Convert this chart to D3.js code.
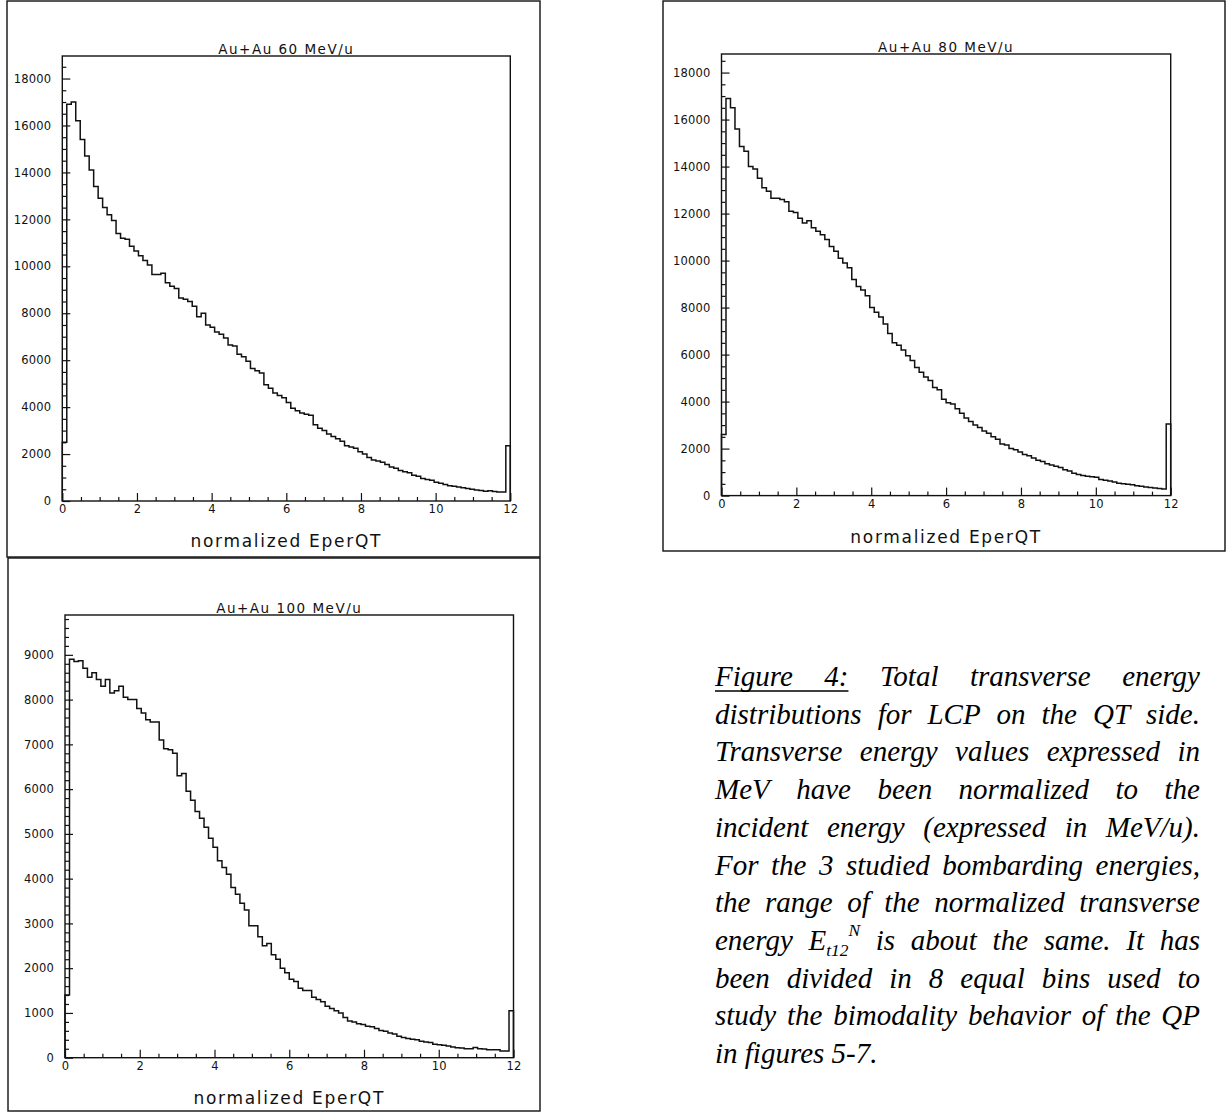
<!DOCTYPE html>
<html>
<head>
<meta charset="utf-8">
<script src="https://cdn.jsdelivr.net/npm/d3@7"></script>
<style>
  html, body { margin: 0; padding: 0; background: #fff; }
  svg { display: block; }
</style>
</head>
<body>
<svg id="fig" width="1227" height="1114"></svg>
<script>
// ---------------------------------------------------------------
// Histogram contents: 100 equal bins on normalized EperQT in [0, 12]
// ---------------------------------------------------------------
const binRange = [0, 12];
const nBins = 100;

const titles = ["Au+Au 60 MeV/u", "Au+Au 80 MeV/u", "Au+Au 100 MeV/u"];
const xAxisTitle = "normalized EperQT";

const counts60 = [
  2500, 16900, 17000, 16200, 15400, 14700, 14100, 13400, 12900, 12500,
  12200, 11950, 11400, 11200, 11150, 10850, 10650, 10450, 10250, 10050,
  9650, 9650, 9700, 9300, 9150, 9050, 8650, 8600, 8500, 8300,
  7850, 8000, 7500, 7400, 7200, 7100, 6950, 6650, 6600, 6250,
  6150, 5950, 5650, 5550, 5450, 4950, 4800, 4600, 4500, 4400,
  4200, 3950, 3850, 3750, 3700, 3650, 3250, 3100, 3000, 2850,
  2750, 2650, 2550, 2350, 2300, 2250, 2100, 2000, 1850, 1750,
  1700, 1650, 1550, 1450, 1400, 1300, 1250, 1200, 1100, 1050,
  960, 920, 880, 800, 760, 700, 650, 630, 600, 560,
  530, 500, 470, 450, 420, 440, 400, 380, 380, 2350
];

const counts80 = [
  2600, 16900, 16500, 15600, 14850, 14650, 14000, 13900, 13500, 13100,
  12950, 12650, 12650, 12600, 12500, 12100, 12050, 11800, 11600, 11700,
  11400, 11250, 11100, 10900, 10600, 10400, 10100, 9900, 9700, 9200,
  8900, 8750, 8500, 8000, 7800, 7600, 7300, 6900, 6500, 6400,
  6200, 5950, 5750, 5450, 5250, 5050, 4900, 4600, 4500, 4100,
  3950, 3900, 3700, 3500, 3300, 3150, 3000, 2900, 2750, 2650,
  2500, 2400, 2200, 2150, 2000, 1950, 1850, 1750, 1700, 1600,
  1500, 1450, 1350, 1300, 1250, 1200, 1100, 1050, 950, 900,
  850, 820, 800, 780, 680, 650, 620, 580, 530, 500,
  480, 460, 420, 400, 370, 340, 320, 300, 280, 3050
];

const counts100 = [
  1400, 8900, 8850, 8870, 8700, 8500, 8600, 8450, 8300, 8450,
  8150, 8200, 8300, 8050, 8000, 8000, 7800, 7700, 7550, 7500,
  7500, 7100, 6900, 6880, 6800, 6300, 6350, 5950, 5750, 5500,
  5350, 5150, 4900, 4700, 4400, 4250, 4100, 3800, 3650, 3450,
  3300, 2950, 2950, 2700, 2500, 2550, 2300, 2200, 2000, 1900,
  1750, 1700, 1550, 1500, 1500, 1350, 1300, 1250, 1150, 1100,
  1050, 1000, 900, 820, 800, 760, 740, 700, 690, 650,
  610, 590, 550, 530, 480, 450, 430, 410, 400, 370,
  350, 340, 300, 290, 280, 260, 240, 225, 215, 200,
  200, 230, 200, 195, 180, 180, 175, 150, 150, 1050
];

const xTickLabels = [0, 2, 4, 6, 8, 10, 12];
const yTicks60 = [0, 2000, 4000, 6000, 8000, 10000, 12000, 14000, 16000, 18000];
const yTicks80 = [0, 2000, 4000, 6000, 8000, 10000, 12000, 14000, 16000, 18000];
const yTicks100 = [0, 1000, 2000, 3000, 4000, 5000, 6000, 7000, 8000, 9000];

// Caption, one entry per justified line; "Figure 4:" is underlined and
// the E_t12^N symbol carries a subscript and a superscript.
const captionLines = [
  [{ w: "Figure", u: true }, { w: "4:", u: true }, "Total", "transverse", "energy"],
  ["distributions", "for", "LCP", "on", "the", "QT", "side."],
  ["Transverse", "energy", "values", "expressed", "in"],
  ["MeV", "have", "been", "normalized", "to", "the"],
  ["incident", "energy", "(expressed", "in", "MeV/u)."],
  ["For", "the", "3", "studied", "bombarding", "energies,"],
  ["the", "range", "of", "the", "normalized", "transverse"],
  ["energy", { base: "E", sub: "t12", sup: "N" }, "is", "about", "the", "same.", "It", "has"],
  ["been", "divided", "in", "8", "equal", "bins", "used", "to"],
  ["study", "the", "bimodality", "behavior", "of", "the", "QP"],
  ["in", "figures", "5-7."]
];

// ---------------------------------------------------------------
// Layout of the three histogram panels
// ---------------------------------------------------------------
const panels = [
  { title: titles[0], counts: counts60, yTicks: yTicks60, yMinorStep: 500, yMax: 18960,
    box: { l: 7, t: 1, r: 540, b: 557 },
    plot: { l: 62.3, r: 510.3, t: 56, b: 501 }, xTitleY: 547 },
  { title: titles[1], counts: counts80, yTicks: yTicks80, yMinorStep: 500, yMax: 18790,
    box: { l: 663, t: 1, r: 1225, b: 551 },
    plot: { l: 721.5, r: 1170.7, t: 54, b: 495.6 }, xTitleY: 543 },
  { title: titles[2], counts: counts100, yTicks: yTicks100, yMinorStep: 200, yMax: 9890,
    box: { l: 8, t: 558, r: 540, b: 1111 },
    plot: { l: 65, r: 513.5, t: 615, b: 1057.7 }, xTitleY: 1104 }
];

const svg = d3.select("#fig");
const ink = "#111";
const axisFont = "'DejaVu Sans', 'Liberation Sans', sans-serif";

panels.forEach(p => {
  const g = svg.append("g");

  // outer frame of the panel
  g.append("rect")
    .attr("x", p.box.l).attr("y", p.box.t)
    .attr("width", p.box.r - p.box.l).attr("height", p.box.b - p.box.t)
    .attr("fill", "none").attr("stroke", ink).attr("stroke-width", 1.4);

  const x = d3.scaleLinear().domain(binRange).range([p.plot.l, p.plot.r]);
  const y = d3.scaleLinear().domain([0, p.yMax]).range([p.plot.b, p.plot.t]);

  // plot frame
  g.append("rect")
    .attr("x", x(binRange[0])).attr("y", y(p.yMax))
    .attr("width", x(binRange[1]) - x(binRange[0]))
    .attr("height", y(0) - y(p.yMax))
    .attr("fill", "none").attr("stroke", ink).attr("stroke-width", 1.4);

  // x axis: majors every 2, minors every 0.5, ticks pointing inward
  const xMinor = d3.range(0, 12.001, 0.5).filter(v => v % 2 !== 0);
  const xMinorAxis = d3.axisBottom(x).tickValues(xMinor).tickSizeInner(-4).tickSizeOuter(0).tickFormat("");
  const xMajorAxis = d3.axisBottom(x).tickValues(xTickLabels).tickSizeInner(-8).tickSizeOuter(0)
    .tickPadding(4).tickFormat(d3.format("d"));

  [xMinorAxis, xMajorAxis].forEach(ax => {
    const a = g.append("g").attr("transform", `translate(0,${y(0)})`).call(ax);
    a.select(".domain").remove();
    a.selectAll("line").attr("stroke", ink).attr("stroke-width", 1.2);
    a.selectAll("text").attr("fill", ink).attr("font-family", axisFont)
      .attr("font-size", 11.5).attr("letter-spacing", 0.2);
  });

  // y axis
  const yMinor = d3.range(0, p.yMax, p.yMinorStep).filter(v => !p.yTicks.includes(v));
  const yMinorAxis = d3.axisLeft(y).tickValues(yMinor).tickSizeInner(-4).tickSizeOuter(0).tickFormat("");
  const yMajorAxis = d3.axisLeft(y).tickValues(p.yTicks).tickSizeInner(-8).tickSizeOuter(0)
    .tickPadding(11).tickFormat(d3.format("d"));

  [yMinorAxis, yMajorAxis].forEach(ax => {
    const a = g.append("g").attr("transform", `translate(${x(0)},0)`).call(ax);
    a.select(".domain").remove();
    a.selectAll("line").attr("stroke", ink).attr("stroke-width", 1.2);
    a.selectAll("text").attr("fill", ink).attr("font-family", axisFont)
      .attr("font-size", 11.5).attr("letter-spacing", 0.2);
  });

  // histogram contour
  const bw = (binRange[1] - binRange[0]) / nBins;
  const pts = [[binRange[0], 0]];
  p.counts.forEach((c, i) => {
    pts.push([binRange[0] + i * bw, c]);
    pts.push([binRange[0] + (i + 1) * bw, c]);
  });
  pts.push([binRange[1], 0]);

  g.append("path")
    .attr("d", d3.line().x(d => x(d[0])).y(d => y(d[1]))(pts))
    .attr("fill", "none").attr("stroke", ink).attr("stroke-width", 1.5)
    .attr("stroke-linejoin", "miter");

  // title just above the frame
  g.append("text")
    .attr("x", (x(0) + x(12)) / 2).attr("y", y(p.yMax) - 2)
    .attr("text-anchor", "middle")
    .attr("font-family", axisFont).attr("font-size", 13.5)
    .attr("letter-spacing", 1.5).attr("fill", ink)
    .text(p.title);

  // x axis title
  g.append("text")
    .attr("x", (x(0) + x(12)) / 2).attr("y", p.xTitleY)
    .attr("text-anchor", "middle")
    .attr("font-family", axisFont).attr("font-size", 17)
    .attr("letter-spacing", 1.7).attr("fill", ink)
    .text(xAxisTitle);
});

// ---------------------------------------------------------------
// Caption block, fully justified except for the last line
// ---------------------------------------------------------------
const cap = { left: 715, right: 1200, top: 686, lead: 37.7, size: 29 };
const capG = svg.append("g")
  .attr("font-family", "'Liberation Serif', 'Times New Roman', serif")
  .attr("font-style", "italic").attr("font-size", cap.size).attr("fill", "#000");

captionLines.forEach((words, li) => {
  const base = cap.top + li * cap.lead;
  const items = words.map(w => {
    const t = capG.append("text").attr("y", base);
    if (typeof w === "string") {
      t.text(w);
    } else if (w.base) {
      t.append("tspan").text(w.base);
      t.append("tspan").attr("font-size", cap.size * 0.6).attr("dy", 6).text(w.sub);
      t.append("tspan").attr("font-size", cap.size * 0.6).attr("dy", -20).text(w.sup);
    } else {
      t.text(w.w);
    }
    return { node: t, width: t.node().getComputedTextLength(), u: !!w.u };
  });
  const total = d3.sum(items, d => d.width);
  const last = li === captionLines.length - 1;
  const gap = last || items.length < 2 ? cap.size * 0.25
    : (cap.right - cap.left - total) / (items.length - 1);
  let cx = cap.left;
  const ul = [];
  items.forEach(it => {
    it.node.attr("x", cx);
    if (it.u) ul.push([cx, cx + it.width]);
    cx += it.width + gap;
  });
  if (ul.length) {
    capG.append("line")
      .attr("x1", ul[0][0]).attr("x2", ul[ul.length - 1][1])
      .attr("y1", base + 5).attr("y2", base + 5)
      .attr("stroke", "#000").attr("stroke-width", 1.4);
  }
});
</script>
</body>
</html>
